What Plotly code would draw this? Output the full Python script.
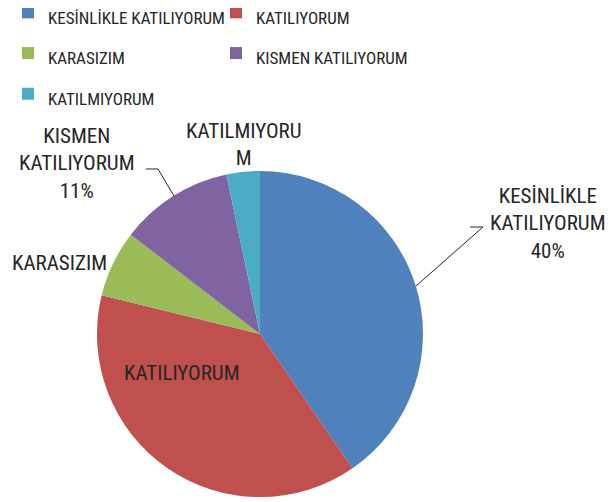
import plotly.graph_objects as go

# survey answers (counts)
labels = ["KESİNLİKLE KATILIYORUM", "KATILIYORUM", "KARASIZIM",
          "KISMEN KATILIYORUM", "KATILMIYORUM"]
counts = [61, 58, 10, 17, 5]
colors = ["#4F81BD", "#C0504D", "#9BBB59", "#8064A2", "#4BACC6"]

# data label text as Excel wrapped it, and which ones carry the percentage
label_text = ["KESİNLİKLE<br>KATILIYORUM", "KATILIYORUM", "KARASIZIM",
              "KISMEN<br>KATILIYORUM", "KATILMIYORU<br>M"]
show_pct = [True, False, False, True, False]

W, H = 615, 502
OFF = 8  # the page body adds an 8px margin around the figure
FONT = "Roboto Condensed, Liberation Sans Narrow, Arial Narrow, sans-serif"


def px(x, y):
    # screen pixel -> paper coords
    return (x - OFF) / W, 1 - (y - OFF) / H


# legend font is set large to get Excel's tall rows; visible text is smaller
legend_names = ["<span style='font-size:17px'>%s</span>" % l for l in labels]

fig = go.Figure()

x0, y0 = px(97, 497)
x1, y1 = px(423, 171)
fig.add_trace(go.Pie(
    labels=legend_names,
    values=counts,
    customdata=labels,
    sort=False,
    direction="clockwise",
    rotation=0,
    marker=dict(colors=colors, line=dict(width=0)),
    textinfo="none",
    hovertemplate="%{customdata}: %{percent}<extra></extra>",
    domain=dict(x=[x0, x1], y=[y0, y1]),
))

# data labels placed like the original (text centres in pixels)
label_pos = [(548, 223), (182, 373), (59, 263), (77, 164), (244, 144)]
total = sum(counts)
for i, (x, y) in enumerate(label_pos):
    txt = label_text[i]
    if show_pct[i]:
        txt += "<br>%d%%" % round(counts[i] / total * 100)
    ax, ay = px(x, y)
    fig.add_annotation(x=ax, y=ay, xref="paper", yref="paper", text=txt,
                       showarrow=False, xanchor="center", yanchor="middle",
                       align="center", font=dict(size=21, color="#262626"))

# leader lines
leaders = [[(470, 227), (483, 227), (416, 286)],
           [(146, 169), (158, 169), (174, 196)]]
for pts in leaders:
    path = ""
    for j, (x, y) in enumerate(pts):
        a, b = px(x, y)
        path += ("M" if j == 0 else "L") + " %f %f " % (a, b)
    fig.add_shape(type="path", path=path, xref="paper", yref="paper",
                  line=dict(color="#262626", width=1))

fig.update_layout(
    width=W,
    height=H,
    margin=dict(l=0, r=0, t=0, b=0, autoexpand=False),
    paper_bgcolor="white",
    plot_bgcolor="white",
    font=dict(family=FONT, size=17, color="#262626"),
    showlegend=True,
    legend=dict(
        orientation="h",
        x=0, y=1 + 21 / H, xanchor="left", yanchor="top",
        entrywidth=163,
        bgcolor="rgba(0,0,0,0)",
        font=dict(size=29, color="#262626"),
    ),
)

fig.write_html("out.html")
